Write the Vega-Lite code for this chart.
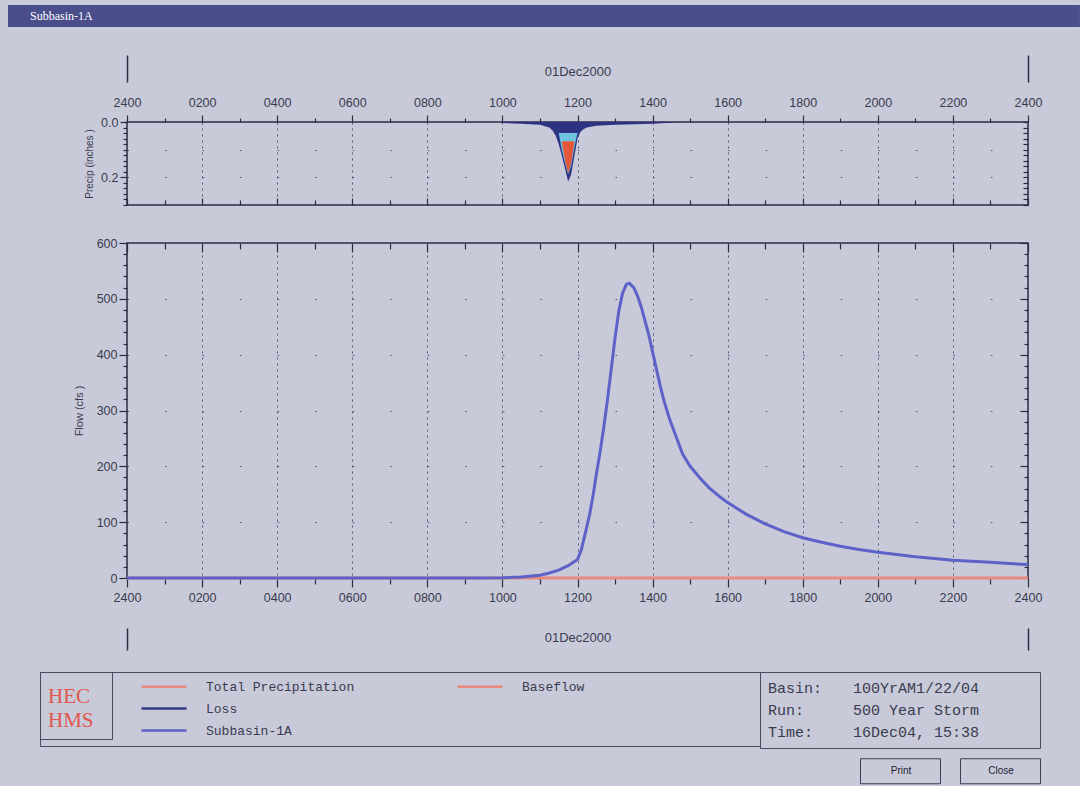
{
  "$schema": "https://vega.github.io/schema/vega-lite/v6.json",
  "background": "#c8cad9",
  "padding": {"left": 8, "top": 5, "right": 0, "bottom": 0},
  "spacing": 23,
  "config": {
    "view": {"stroke": "#2c2d42", "strokeWidth": 1.5},
    "axis": {"labelFont": "Liberation Sans", "labelFontSize": 12.5, "labelColor": "#3a3b4f", "titleFont": "Liberation Sans", "titleFontSize": 11, "titleFontWeight": "normal", "titleColor": "#3a3b4f", "tickColor": "#2c2d42", "tickWidth": 1.2, "domainColor": "#2c2d42", "labelOverlap": false, "labelFlush": false, "labelBound": false}
  },
  "datasets": {
    "precip": [
      {"t": 0, "total": 0}, {"t": 9.9, "total": 0}, {"t": 10, "total": 0.004}, {"t": 10.5, "total": 0.006},
      {"t": 11, "total": 0.01}, {"t": 11.25, "total": 0.02}, {"t": 11.33, "total": 0.03},
      {"t": 11.42, "total": 0.05}, {"t": 11.5, "total": 0.08, "cyan": 0.04},
      {"t": 11.58, "total": 0.12, "cyan": 0.1, "red": 0.07},
      {"t": 11.67, "total": 0.17, "cyan": 0.15, "red": 0.14},
      {"t": 11.75, "total": 0.215, "cyan": 0.19, "red": 0.185},
      {"t": 11.83, "total": 0.19, "cyan": 0.16, "red": 0.15},
      {"t": 11.92, "total": 0.12, "cyan": 0.09, "red": 0.07},
      {"t": 12, "total": 0.06, "cyan": 0.04}, {"t": 12.08, "total": 0.035}, {"t": 12.17, "total": 0.025},
      {"t": 12.25, "total": 0.02}, {"t": 12.5, "total": 0.014}, {"t": 13, "total": 0.01}, {"t": 13.5, "total": 0.008},
      {"t": 14, "total": 0.006}, {"t": 14.5, "total": 0.003}, {"t": 14.6, "total": 0}, {"t": 24, "total": 0}
    ],
    "flow": [
      {"t": 0, "q": 0, "s": "Baseflow"}, {"t": 24, "q": 0, "s": "Baseflow"},
      {"t": 0, "q": 0, "s": "Subbasin-1A"}, {"t": 9.5, "q": 0, "s": "Subbasin-1A"}, {"t": 10, "q": 0.5, "s": "Subbasin-1A"},
      {"t": 10.5, "q": 2, "s": "Subbasin-1A"}, {"t": 11, "q": 5, "s": "Subbasin-1A"}, {"t": 11.25, "q": 9, "s": "Subbasin-1A"},
      {"t": 11.5, "q": 14, "s": "Subbasin-1A"}, {"t": 11.75, "q": 22, "s": "Subbasin-1A"}, {"t": 12, "q": 33, "s": "Subbasin-1A"},
      {"t": 12.1, "q": 50, "s": "Subbasin-1A"}, {"t": 12.2, "q": 78, "s": "Subbasin-1A"}, {"t": 12.33, "q": 116, "s": "Subbasin-1A"},
      {"t": 12.42, "q": 150, "s": "Subbasin-1A"}, {"t": 12.5, "q": 185, "s": "Subbasin-1A"}, {"t": 12.6, "q": 225, "s": "Subbasin-1A"},
      {"t": 12.7, "q": 270, "s": "Subbasin-1A"}, {"t": 12.8, "q": 320, "s": "Subbasin-1A"}, {"t": 12.9, "q": 375, "s": "Subbasin-1A"},
      {"t": 13, "q": 430, "s": "Subbasin-1A"}, {"t": 13.1, "q": 478, "s": "Subbasin-1A"}, {"t": 13.2, "q": 510, "s": "Subbasin-1A"},
      {"t": 13.3, "q": 526, "s": "Subbasin-1A"}, {"t": 13.38, "q": 528, "s": "Subbasin-1A"}, {"t": 13.5, "q": 520, "s": "Subbasin-1A"},
      {"t": 13.6, "q": 505, "s": "Subbasin-1A"}, {"t": 13.7, "q": 485, "s": "Subbasin-1A"}, {"t": 13.8, "q": 460, "s": "Subbasin-1A"},
      {"t": 13.9, "q": 435, "s": "Subbasin-1A"}, {"t": 14, "q": 405, "s": "Subbasin-1A"}, {"t": 14.1, "q": 375, "s": "Subbasin-1A"},
      {"t": 14.2, "q": 345, "s": "Subbasin-1A"}, {"t": 14.3, "q": 318, "s": "Subbasin-1A"}, {"t": 14.45, "q": 285, "s": "Subbasin-1A"},
      {"t": 14.6, "q": 258, "s": "Subbasin-1A"}, {"t": 14.8, "q": 222, "s": "Subbasin-1A"}, {"t": 15, "q": 200, "s": "Subbasin-1A"},
      {"t": 15.25, "q": 180, "s": "Subbasin-1A"}, {"t": 15.5, "q": 162, "s": "Subbasin-1A"}, {"t": 15.8, "q": 145, "s": "Subbasin-1A"},
      {"t": 16, "q": 135, "s": "Subbasin-1A"}, {"t": 16.5, "q": 114, "s": "Subbasin-1A"}, {"t": 17, "q": 97, "s": "Subbasin-1A"},
      {"t": 17.5, "q": 83, "s": "Subbasin-1A"}, {"t": 18, "q": 72, "s": "Subbasin-1A"}, {"t": 18.5, "q": 64, "s": "Subbasin-1A"},
      {"t": 19, "q": 57, "s": "Subbasin-1A"}, {"t": 19.5, "q": 51, "s": "Subbasin-1A"}, {"t": 20, "q": 46, "s": "Subbasin-1A"},
      {"t": 20.5, "q": 42, "s": "Subbasin-1A"}, {"t": 21, "q": 38, "s": "Subbasin-1A"}, {"t": 21.5, "q": 35, "s": "Subbasin-1A"},
      {"t": 22, "q": 32, "s": "Subbasin-1A"}, {"t": 22.5, "q": 30, "s": "Subbasin-1A"}, {"t": 23, "q": 28, "s": "Subbasin-1A"},
      {"t": 23.5, "q": 26, "s": "Subbasin-1A"}, {"t": 24, "q": 24, "s": "Subbasin-1A"}
    ],
    "info": [{"k": "Basin:"}, {"k": "100YrAM1/22/04"}, {"k": "Run:"}, {"k": "500 Year Storm"}, {"k": "Time:"}, {"k": "16Dec04, 15:38"}],
    "buttons": [{"b": "Print"}, {"b": "Close"}],
    "window": [{"w": "Subbasin-1A"}],
    "divider": [{"d": "~"}]
  },
  "vconcat": [
    {
      "width": 901,
      "height": 83,
      "data": {"name": "precip"},
      "resolve": {"axis": {"x": "independent", "y": "independent"}},
      "layer": [
        {
          "mark": {"type": "area", "color": "#2e3282"},
          "encoding": {
            "x": {"field": "t", "type": "quantitative", "scale": {"domain": [0, 24], "nice": false, "zero": false},
              "axis": {"orient": "top", "title": null, "values": [0,1,2,3,4,5,6,7,8,9,10,11,12,13,14,15,16,17,18,19,20,21,22,23,24],
                "labelExpr": "datum.value % 2 != 0 ? '' : (datum.value % 24 == 0 ? '2400' : (datum.value < 10 ? '0' : '') + datum.value + '00')",
                "tickSize": {"condition": {"test": "datum.value % 2 == 0", "value": 7}, "value": 4},
                "labelPadding": 6, "domain": false, "grid": true, "gridDash": [2, 4], "gridColor": "#3a3b55",
                "gridOpacity": {"condition": {"test": "datum.value % 2 == 0 && datum.value > 0 && datum.value < 24", "value": 0.8}, "value": 0}}},
            "y": {"field": "total", "type": "quantitative", "scale": {"domain": [0, 0.3], "reverse": true, "nice": false, "zero": false},
              "axis": {"orient": "left", "title": "Precip (inches )", "titleFontSize": 10, "titlePadding": 6,
                "values": [0,0.02,0.04,0.06,0.08,0.1,0.12,0.14,0.16,0.18,0.2,0.22,0.24,0.26,0.28,0.3],
                "labelExpr": "datum.value == 0 ? '0.0' : (datum.value == 0.2 ? '0.2' : '')",
                "tickSize": {"condition": {"test": "datum.value == 0 || datum.value == 0.2", "value": 7}, "value": 4},
                "labelPadding": 2, "domain": false, "grid": true, "gridDash": [1.5, 36.04], "gridColor": "#3a3b55",
                "gridOpacity": {"condition": {"test": "datum.value == 0.1 || datum.value == 0.2", "value": 0.8}, "value": 0}}}
          }
        },
        {
          "transform": [{"filter": "datum.cyan != null"}],
          "mark": {"type": "area", "color": "#6ec3df"},
          "encoding": {
            "x": {"field": "t", "type": "quantitative", "scale": {"domain": [0, 24], "nice": false, "zero": false},
              "axis": {"orient": "bottom", "title": null, "values": [0,1,2,3,4,5,6,7,8,9,10,11,12,13,14,15,16,17,18,19,20,21,22,23,24],
                "labels": false, "domain": false, "tickSize": {"condition": {"test": "datum.value % 2 == 0", "value": -7}, "value": -5}}},
            "y": {"field": "cyan", "type": "quantitative", "scale": {"domain": [0, 0.3], "reverse": true, "nice": false, "zero": false},
              "axis": {"orient": "right", "title": null, "values": [0,0.02,0.04,0.06,0.08,0.1,0.12,0.14,0.16,0.18,0.2,0.22,0.24,0.26,0.28,0.3],
                "labels": false, "domain": false, "tickSize": -5}},
            "y2": {"datum": 0.04}
          }
        },
        {
          "transform": [{"filter": "datum.red != null"}],
          "mark": {"type": "area", "color": "#e4573b"},
          "encoding": {
            "x": {"field": "t", "type": "quantitative", "scale": {"domain": [0, 24], "nice": false, "zero": false},
              "axis": {"orient": "top", "title": null, "offset": 40, "values": [0, 12, 24], "domain": false,
                "labelExpr": "datum.value == 12 ? '01Dec2000' : ''", "labelFontSize": 13, "labelPadding": -23,
                "tickSize": 27, "tickWidth": 1.5,
                "tickColor": {"condition": {"test": "datum.value == 0 || datum.value == 24", "value": "#2c2d42"}, "value": "rgba(0,0,0,0)"}}},
            "y": {"field": "red", "type": "quantitative", "scale": {"domain": [0, 0.3], "reverse": true, "nice": false, "zero": false}, "axis": null},
            "y2": {"datum": 0.07}
          }
        }
      ]
    },
    {
      "width": 901,
      "height": 335,
      "resolve": {"axis": {"x": "independent", "y": "independent"}},
      "layer": [
        {
          "data": {"name": "flow"},
          "mark": {"type": "line", "strokeWidth": 3},
          "encoding": {
            "x": {"field": "t", "type": "quantitative", "scale": {"domain": [0, 24], "nice": false, "zero": false},
              "axis": {"orient": "bottom", "title": null, "values": [0,1,2,3,4,5,6,7,8,9,10,11,12,13,14,15,16,17,18,19,20,21,22,23,24],
                "labelExpr": "datum.value % 2 != 0 ? '' : (datum.value % 24 == 0 ? '2400' : (datum.value < 10 ? '0' : '') + datum.value + '00')",
                "tickSize": {"condition": {"test": "datum.value % 2 == 0", "value": 9}, "value": 6},
                "labelPadding": 4, "domain": false, "grid": true, "gridDash": [2, 4], "gridColor": "#3a3b55",
                "gridOpacity": {"condition": {"test": "datum.value % 2 == 0 && datum.value > 0 && datum.value < 24", "value": 0.8}, "value": 0}}},
            "y": {"field": "q", "type": "quantitative", "scale": {"domain": [0, 600], "nice": false},
              "axis": {"orient": "left", "title": "Flow (cfs )", "titlePadding": 12,
                "values": [0,20,40,60,80,100,120,140,160,180,200,220,240,260,280,300,320,340,360,380,400,420,440,460,480,500,520,540,560,580,600],
                "labelExpr": "datum.value % 100 == 0 ? datum.value : ''",
                "tickSize": {"condition": {"test": "datum.value % 100 == 0", "value": 8}, "value": 4},
                "labelPadding": 2, "domain": false, "grid": true, "gridDash": [1.5, 36.04], "gridColor": "#3a3b55",
                "gridOpacity": {"condition": {"test": "datum.value % 100 == 0 && datum.value > 0 && datum.value < 600", "value": 0.8}, "value": 0}}},
            "color": {"field": "s", "type": "nominal",
              "scale": {"domain": ["Total Precipitation", "Loss", "Subbasin-1A", "Baseflow", "~"], "range": ["#e98a80", "#353a85", "#5d62c8", "#e98a80", "rgba(0,0,0,0)"]},
              "legend": {"orient": "none", "legendX": -87, "legendY": 550,
                "title": ["HEC", "HMS"], "titleOrient": "left", "titleFont": "Liberation Serif", "titleFontSize": 21, "titleFontWeight": "normal", "titleColor": "#e0574c", "titleLineHeight": 24, "titlePadding": 46,
                "columns": 2, "columnPadding": 101, "rowPadding": 8, "padding": 8, "clipHeight": 13,
                "symbolType": "stroke", "symbolSize": 2025, "symbolStrokeWidth": 2.5,
                "labelFont": "Liberation Mono", "labelFontSize": 13, "labelColor": "#3a3b4f", "labelOffset": 18, "labelLimit": 600,
                "labelExpr": "datum.label == '~' ? '\u2800\u2800\u2800\u2800\u2800\u2800\u2800\u2800\u2800\u2800\u2800\u2800\u2800\u2800\u2800\u2800\u2800\u2800\u2800\u2800\u2800\u2800\u2800' : datum.label",
                "strokeColor": "#4a4b5e"}}
          }
        },
        {
          "data": {"name": "flow"},
          "transform": [{"filter": "datum.s == 'Subbasin-1A'"}],
          "mark": {"type": "line", "opacity": 0},
          "encoding": {
            "x": {"field": "t", "type": "quantitative", "scale": {"domain": [0, 24], "nice": false, "zero": false},
              "axis": {"orient": "top", "title": null,
                "values": [0,1,2,3,4,5,6,7,8,9,10,11,12,13,14,15,16,17,18,19,20,21,22,23,24],
                "labels": false, "domain": false, "tickSize": {"condition": {"test": "datum.value % 2 == 0", "value": -9}, "value": -6}}},
            "y": {"field": "q", "type": "quantitative", "scale": {"domain": [0, 600], "nice": false},
              "axis": {"orient": "right", "title": null, "labels": false, "domain": false,
                "values": [0,20,40,60,80,100,120,140,160,180,200,220,240,260,280,300,320,340,360,380,400,420,440,460,480,500,520,540,560,580,600],
                "tickSize": {"condition": {"test": "datum.value % 100 == 0", "value": -8}, "value": -4}}}
          }
        },
        {
          "data": {"name": "flow"},
          "transform": [{"filter": "datum.s == 'Subbasin-1A'"}],
          "mark": {"type": "line", "opacity": 0},
          "encoding": {
            "x": {"field": "t", "type": "quantitative", "scale": {"domain": [0, 24], "nice": false, "zero": false},
              "axis": {"orient": "bottom", "title": null, "offset": 50, "values": [0, 12, 24], "domain": false,
                "labelExpr": "datum.value == 12 ? '01Dec2000' : ''", "labelFontSize": 13, "labelPadding": -19,
                "tickSize": 22, "tickWidth": 1.5,
                "tickColor": {"condition": {"test": "datum.value == 0 || datum.value == 24", "value": "#2c2d42"}, "value": "rgba(0,0,0,0)"}}},
            "y": {"field": "q", "type": "quantitative", "scale": {"domain": [0, 600], "nice": false}, "axis": null}
          }
        },
        {
          "data": {"name": "info"},
          "mark": {"type": "point", "size": 0},
          "encoding": {
            "shape": {"field": "k", "type": "nominal",
              "scale": {"domain": ["Basin:", "Run:", "Time:", "100YrAM1/22/04", "500 Year Storm", "16Dec04, 15:38", "~1", "~2", "~3"], "range": ["circle","circle","circle","circle","circle","circle","circle","circle","circle"]},
              "legend": {"orient": "none", "legendX": 633, "legendY": 550, "title": null, "columns": 3, "columnPadding": 30, "rowPadding": 6, "padding": 8,
                "symbolOpacity": 0, "symbolSize": 1, "symbolStrokeWidth": 0, "labelOffset": -15, "labelFont": "Liberation Mono", "labelFontSize": 15, "labelColor": "#3a3b4f", "labelLimit": 400,
                "labelExpr": "slice(datum.label, 0, 1) == '~' ? '\u2800\u2800' : datum.label",
                "strokeColor": "#4a4b5e"}}
          }
        },
        {
          "data": {"name": "divider"},
          "mark": {"type": "point", "filled": false, "color": "#3c3d50", "shape": "M0,0Z"},
          "encoding": {
            "strokeWidth": {"field": "d", "type": "ordinal",
              "scale": {"domain": ["~"], "range": [1]},
              "legend": {"orient": "none", "legendX": -87, "legendY": 550, "title": null, "padding": 30,
                "symbolType": "M-1,-0.565H1V0.565H-1Z", "symbolSize": 529, "symbolOpacity": 0, "labelOffset": 0, "labelFontSize": 1,
                "labelExpr": "''",
                "strokeColor": "#4a4b5e"}}
          }
        },
        {
          "data": {"name": "buttons"},
          "mark": {"type": "point", "filled": false, "color": "#3c3d50", "strokeWidth": 1, "shape": "M0,0Z"},
          "encoding": {
            "opacity": {"field": "b", "type": "ordinal",
              "scale": {"domain": ["Print", "Close"], "range": [1, 1]},
              "legend": {"orient": "none", "legendX": 760.5, "legendY": 636, "title": null, "direction": "horizontal", "columnPadding": 16, "padding": 0,
                "symbolType": "M-3.2,-1H3.2V1H-3.2Z", "symbolSize": 625, "symbolFillColor": "#d3d5e2", "symbolStrokeColor": "#3c3d50", "symbolStrokeWidth": 1,
                "labelAlign": "center", "labelOffset": -12.5, "labelFont": "Liberation Sans", "labelFontSize": 10, "labelColor": "#222233"}}
          }
        },
        {
          "data": {"name": "window"},
          "mark": {"type": "point", "filled": true, "color": "#4a4e8b", "shape": "M0,0Z"},
          "encoding": {
            "size": {"field": "w", "type": "ordinal",
              "scale": {"domain": ["Subbasin-1A"], "range": [484, 484]},
              "legend": {"orient": "none", "legendX": -119, "legendY": -117, "title": null, "padding": 0,
                "symbolType": "M-1,-1H96.45V1H-1Z", "symbolFillColor": "#4a4e8b", "symbolStrokeColor": "#4a4e8b", "symbolStrokeWidth": 0, "symbolOpacity": 1,
                "labelOffset": 0, "labelFont": "Liberation Serif", "labelFontSize": 12, "labelColor": "#ffffff"}}
          }
        }
      ]
    }
  ]
}
